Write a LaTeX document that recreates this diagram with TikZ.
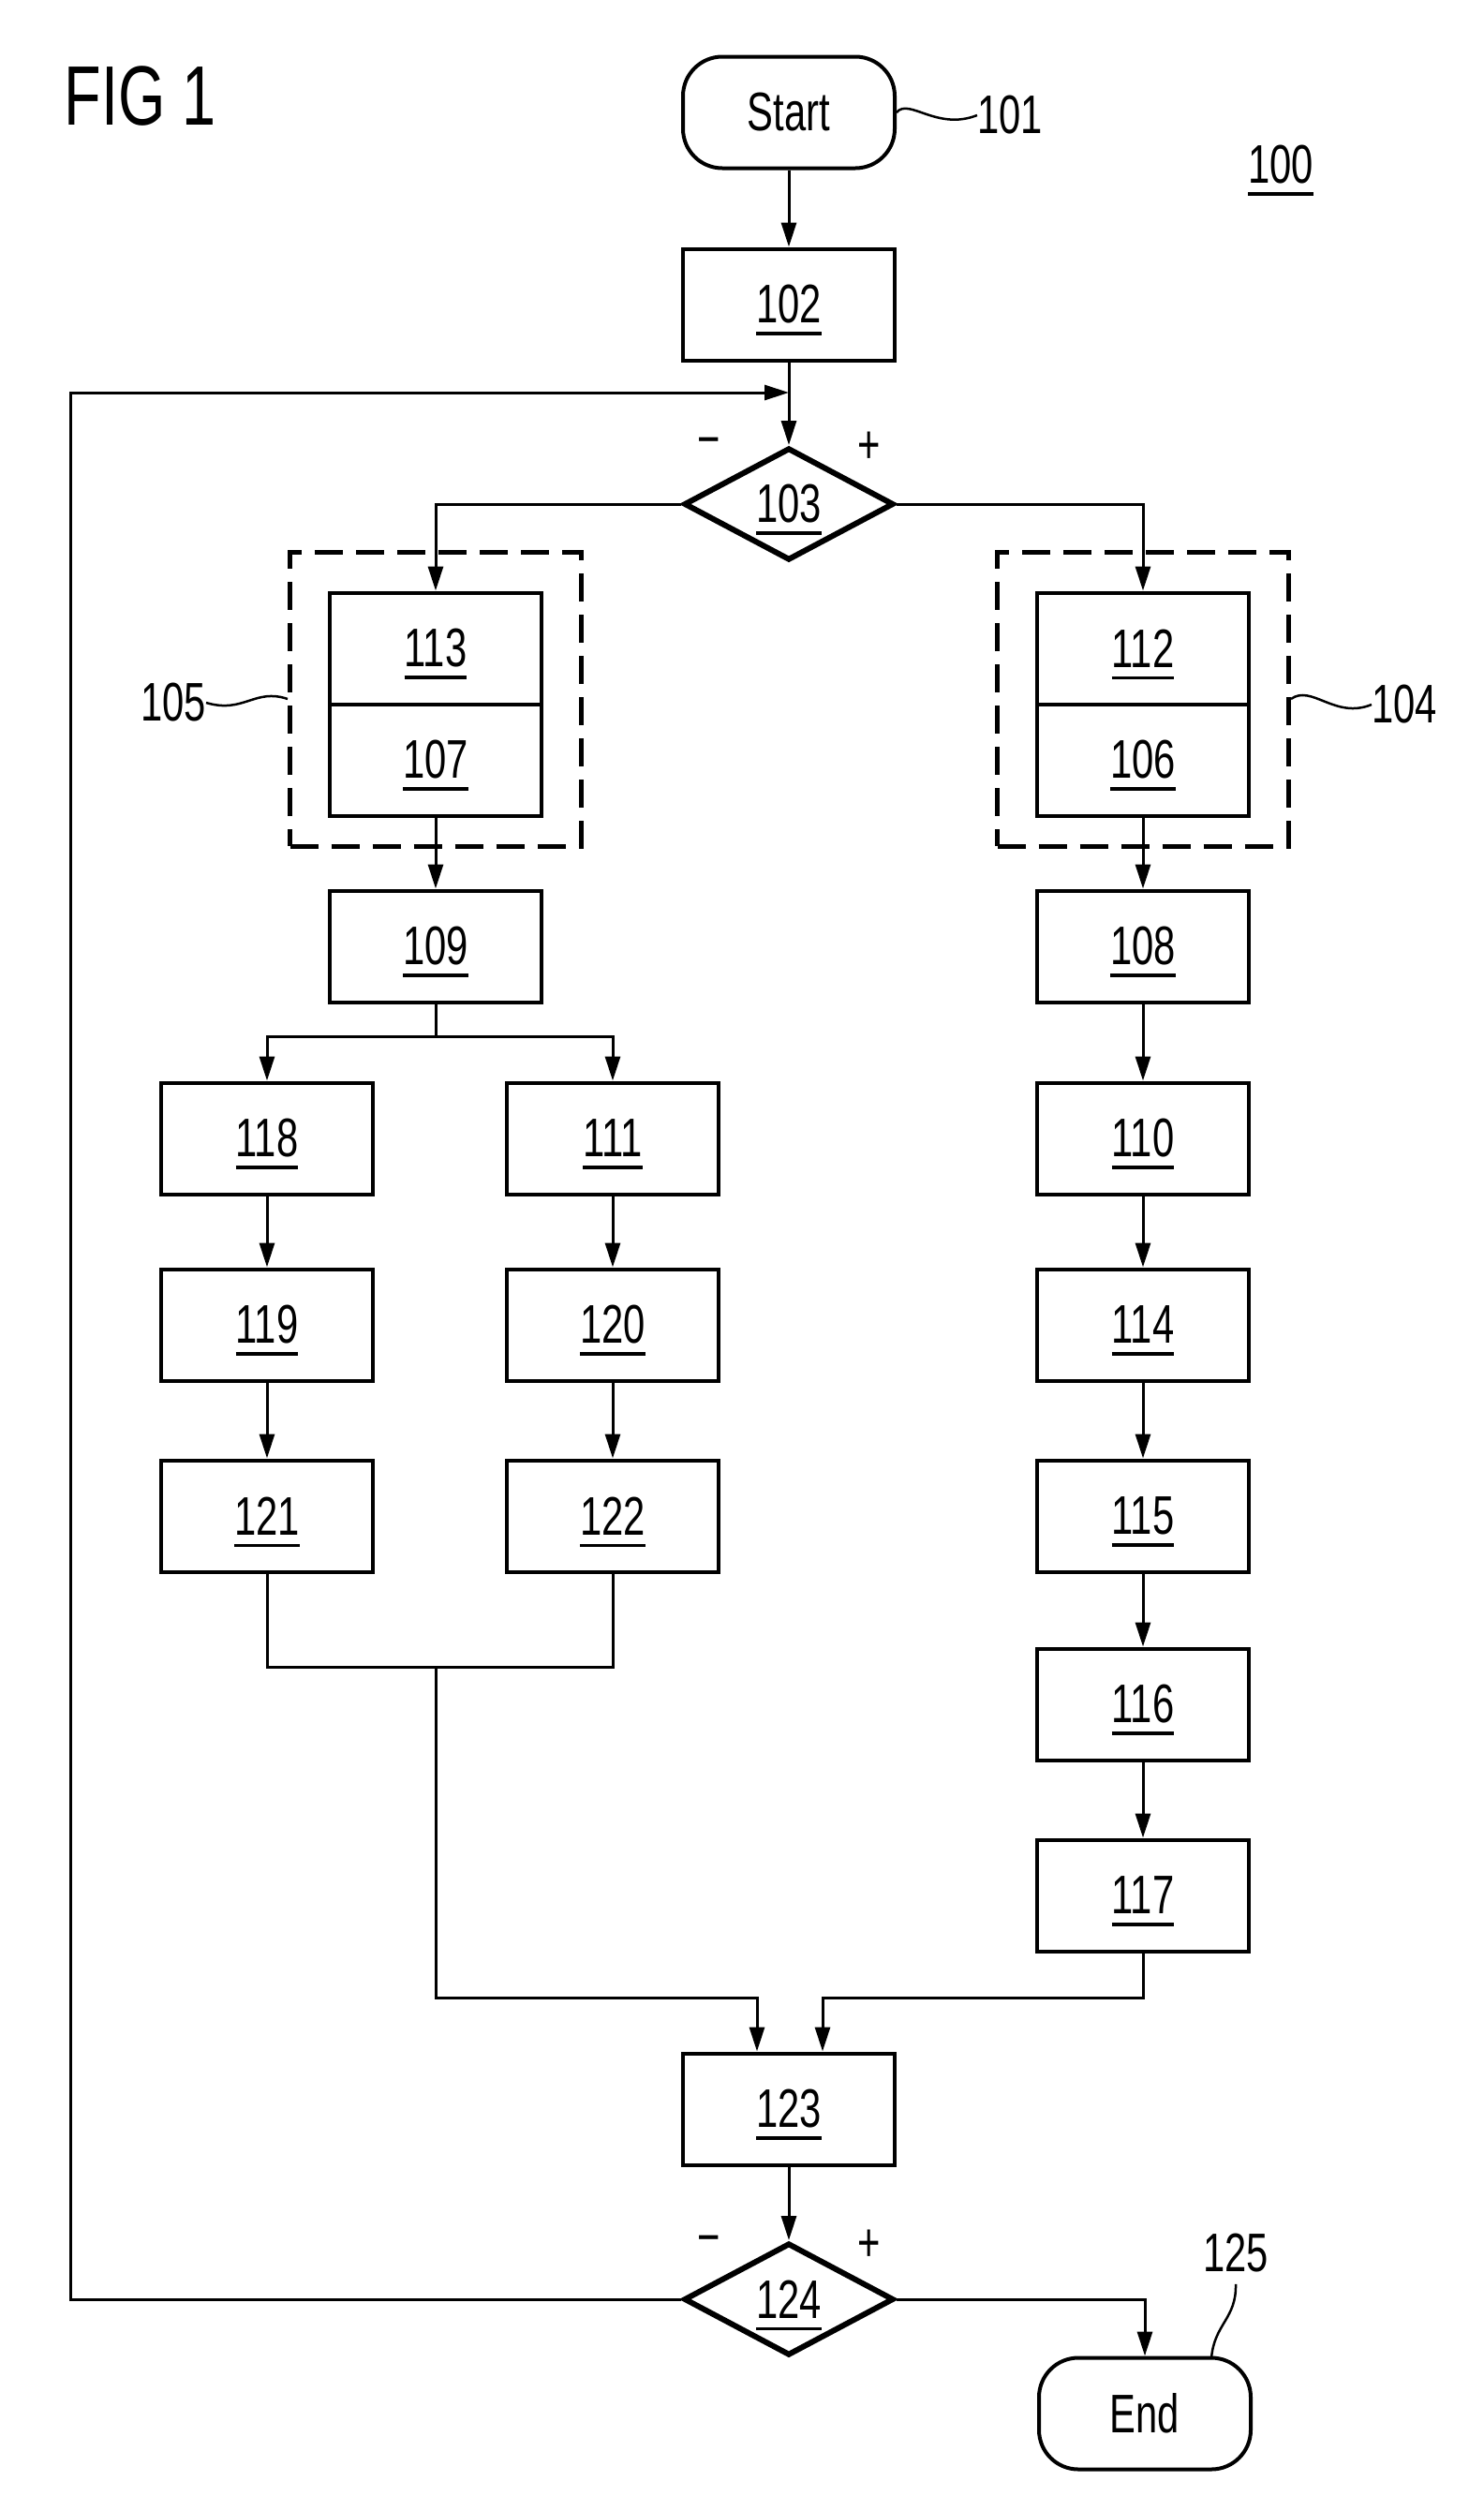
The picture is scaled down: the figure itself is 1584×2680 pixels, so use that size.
\documentclass[tikz,border=0pt]{standalone}
\usepackage{fontspec}
\setmainfont[FakeStretch=0.72]{Liberation Sans}
\usetikzlibrary{arrows.meta,shapes.geometric}
\newcommand{\unum}[1]{\setbox0=\hbox{#1}\leavevmode\rlap{\copy0}\raisebox{-13pt}[0pt][0pt]{\rule{\wd0}{3.5pt}}}
\begin{document}
\begin{tikzpicture}[x=1pt,y=-1pt,
 lbl/.style={font=\fontsize{58}{62}\selectfont,inner sep=0pt},
 box/.style={draw,line width=4pt,minimum width=226pt,minimum height=119pt,inner sep=0pt,lbl},
 term/.style={box,rounded corners=42pt},
 dec/.style={draw,diamond,line width=6pt,minimum width=224pt,minimum height=120pt,aspect=1.87,inner sep=0pt,lbl},
 grp/.style={draw,dash pattern=on 30pt off 14pt,line width=5pt,minimum width=311pt,minimum height=314pt,inner sep=0pt},
 con/.style={line width=3pt},
 arr/.style={con,-{Triangle[length=26pt,width=16pt]}},
 lead/.style={line width=2.5pt}]
\path[use as bounding box] (0,0) rectangle (1584,2680);
% labels
\node[lbl,font=\fontsize{90}{92}\selectfont] (fig) at (150,103) {FIG 1};
\node[term] (start) at (842,120) {Start};
\node[lbl] (l101) at (1078,123) {101};
\node[lbl] (l100) at (1367,176) {\unum{100}};
\node[box] (b102) at (842,325) {\unum{102}};
\coordinate (j) at (842,419);
\node[dec] (d103) at (842,538) {\unum{103}};
\node[lbl] (m1) at (757,478) {−};
\node[lbl] (p1) at (928,478) {+};
% left group
\node[grp] (g105) at (465,746) {};
\node[box] (b113) at (465,692) {\unum{113}};
\node[box] (b107) at (465,811) {\unum{107}};
\node[lbl] (l105) at (185,750) {105};
% right group
\node[grp] (g104) at (1220,746) {};
\node[box] (b112) at (1220,692) {\unum{112}};
\node[box] (b106) at (1220,811) {\unum{106}};
\node[lbl] (l104) at (1499,752) {104};
% columns
\node[box] (b109) at (465,1010) {\unum{109}};
\node[box] (b108) at (1220,1010) {\unum{108}};
\coordinate (s) at (465,1106);
\node[box] (b118) at (285,1215) {\unum{118}};
\node[box] (b111) at (654,1215) {\unum{111}};
\node[box] (b119) at (285,1414) {\unum{119}};
\node[box] (b120) at (654,1414) {\unum{120}};
\node[box] (b121) at (285,1618) {\unum{121}};
\node[box] (b122) at (654,1618) {\unum{122}};
\node[box] (b110) at (1220,1215) {\unum{110}};
\node[box] (b114) at (1220,1414) {\unum{114}};
\node[box] (b115) at (1220,1618) {\unum{115}};
\node[box] (b116) at (1220,1819) {\unum{116}};
\node[box] (b117) at (1220,2023) {\unum{117}};
\coordinate (mg) at (465,1779);
\coordinate (c1) at (808,2132);
\coordinate (c2) at (878,2132);
\node[box] (b123) at (842,2251) {\unum{123}};
\node[dec] (d124) at (842,2454) {\unum{124}};
\node[lbl] (m2) at (757,2397) {−};
\node[lbl] (p2) at (928,2397) {+};
\node[term] (end) at (1222,2576) {End};
\node[lbl] (l125) at (1319,2405) {125};
\coordinate (lp) at (75,2454);
\coordinate (e125) at (1293,2517);
% connectors
\draw[arr] (start) -- (b102);
\draw[arr] (b102) -- (d103);
\draw[arr] (d124.west) -- (lp) |- (j);
\draw[arr] (d103.west) -| (b113.north);
\draw[arr] (d103.east) -| (b112.north);
\draw[arr] (b107) -- (b109);
\draw[arr] (b106) -- (b108);
\draw[con] (b109.south) -- (s);
\draw[arr] (s) -| (b118.north);
\draw[arr] (s) -| (b111.north);
\draw[arr] (b118) -- (b119);
\draw[arr] (b119) -- (b121);
\draw[arr] (b111) -- (b120);
\draw[arr] (b120) -- (b122);
\draw[arr] (b108) -- (b110);
\draw[arr] (b110) -- (b114);
\draw[arr] (b114) -- (b115);
\draw[arr] (b115) -- (b116);
\draw[arr] (b116) -- (b117);
\draw[con] (b121.south) |- (mg) -| (b122.south);
\draw[arr] (mg) |- (c1) -- (c1 |- b123.north);
\draw[arr] (b117.south) |- (c2) -- (c2 |- b123.north);
\draw[arr] (b123) -- (d124);
\draw[arr] (d124.east) -| (end.north);
% leaders
\draw[lead] (start.east) .. controls (970,104) and (1000,140) .. (l101.west);
\draw[lead] (l105.east) .. controls (260,762) and (272,734) .. (g105.west);
\draw[lead] (g104.east) .. controls (1400,730) and (1425,768) .. (l104.west);
\draw[lead] (l125.south) ++(0,12) .. controls (1320,2475) and (1296,2480) .. (e125);
\end{tikzpicture}
\end{document}
